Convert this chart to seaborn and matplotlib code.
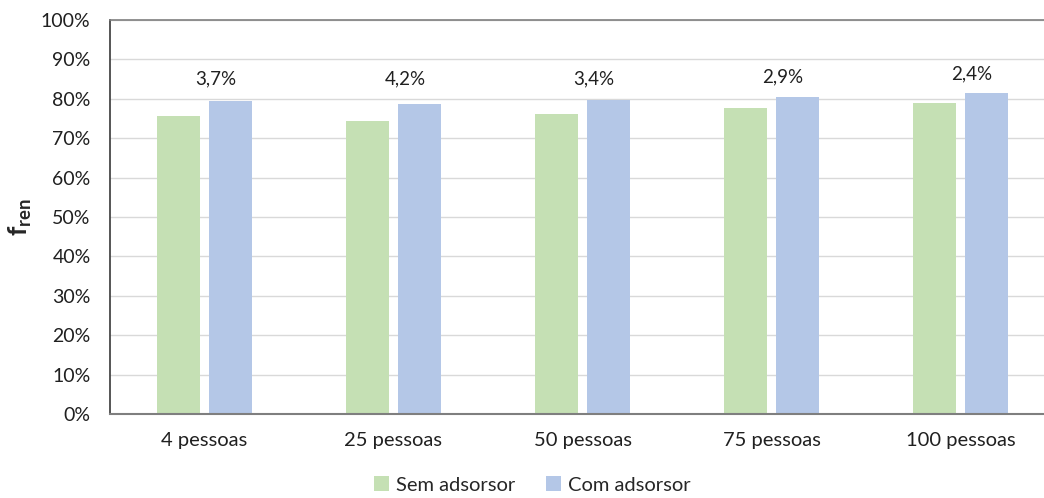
import matplotlib
matplotlib.use("Agg")
import matplotlib.pyplot as plt
import seaborn as sns
import pandas as pd
from matplotlib.patches import Patch

categories = ["4 pessoas", "25 pessoas", "50 pessoas", "75 pessoas", "100 pessoas"]
sem_adsorsor = [75.7, 74.4, 76.2, 77.6, 78.9]
com_adsorsor = [79.4, 78.6, 79.7, 80.5, 81.4]
diff_labels = ["3,7%", "4,2%", "3,4%", "2,9%", "2,4%"]
series_names = ["Sem adsorsor", "Com adsorsor"]
colors = ["#C5E0B4", "#B4C7E7"]

sns.set_theme(style="white")
plt.rcParams['font.family'] = ['Lato', 'DejaVu Sans']
plt.rcParams['mathtext.fontset'] = 'custom'
plt.rcParams['mathtext.bf'] = 'Lato:bold'
plt.rcParams['mathtext.rm'] = 'Lato'

df = pd.DataFrame({
    "cat": categories * 2,
    "val": sem_adsorsor + com_adsorsor,
    "serie": [series_names[0]] * len(categories) + [series_names[1]] * len(categories),
})

fig = plt.figure(figsize=(10.44, 4.98), dpi=100)
ax = fig.add_axes([110/1044, 1 - 414/498, 945/1044, 394/498])
sns.barplot(data=df, x="cat", y="val", hue="serie", hue_order=series_names,
            palette=colors, width=0.56, gap=0.186, ax=ax, legend=False,
            saturation=1, errorbar=None, linewidth=0)

ax.set_ylim(0, 100)
ax.set_xlim(-0.5, len(categories) - 0.5)
ax.set_yticks(range(0, 101, 10))
ax.set_yticklabels([f"{v}%" for v in range(0, 101, 10)])
ax.yaxis.grid(True, color="#d9d9d9", linewidth=1)
ax.set_axisbelow(True)
ax.spines["right"].set_visible(False)
ax.spines["top"].set_color("#7f7f7f")
ax.spines["left"].set_color("#404040")
ax.spines["bottom"].set_color("#7f7f7f")
ax.spines["bottom"].set_linewidth(1.5)
ax.spines["top"].set_linewidth(1.2)
ax.tick_params(axis="y", length=0, pad=14, labelsize=14, colors="#202020")
ax.tick_params(axis="x", length=0, pad=13, labelsize=14.5, colors="#202020")
ax.set_xlabel("")
ax.set_ylabel(r"$\mathbf{f_{ren}}$", fontsize=19, labelpad=5)

for i, lab in enumerate(diff_labels):
    y = max(85.0, com_adsorsor[i] + 5.0)
    ax.text(i + 0.06, y, lab, ha="center", va="center", fontsize=13.5, color="#202020")

handles = [Patch(facecolor=c, edgecolor="none") for c in colors]
fig.legend(handles, series_names, loc="center", bbox_to_anchor=(0.51, 0.026),
           ncol=2, frameon=False, fontsize=14.5, handlelength=0.75, handleheight=0.75,
           handletextpad=0.35, columnspacing=1.5)

fig.savefig("out.png", dpi=100)
